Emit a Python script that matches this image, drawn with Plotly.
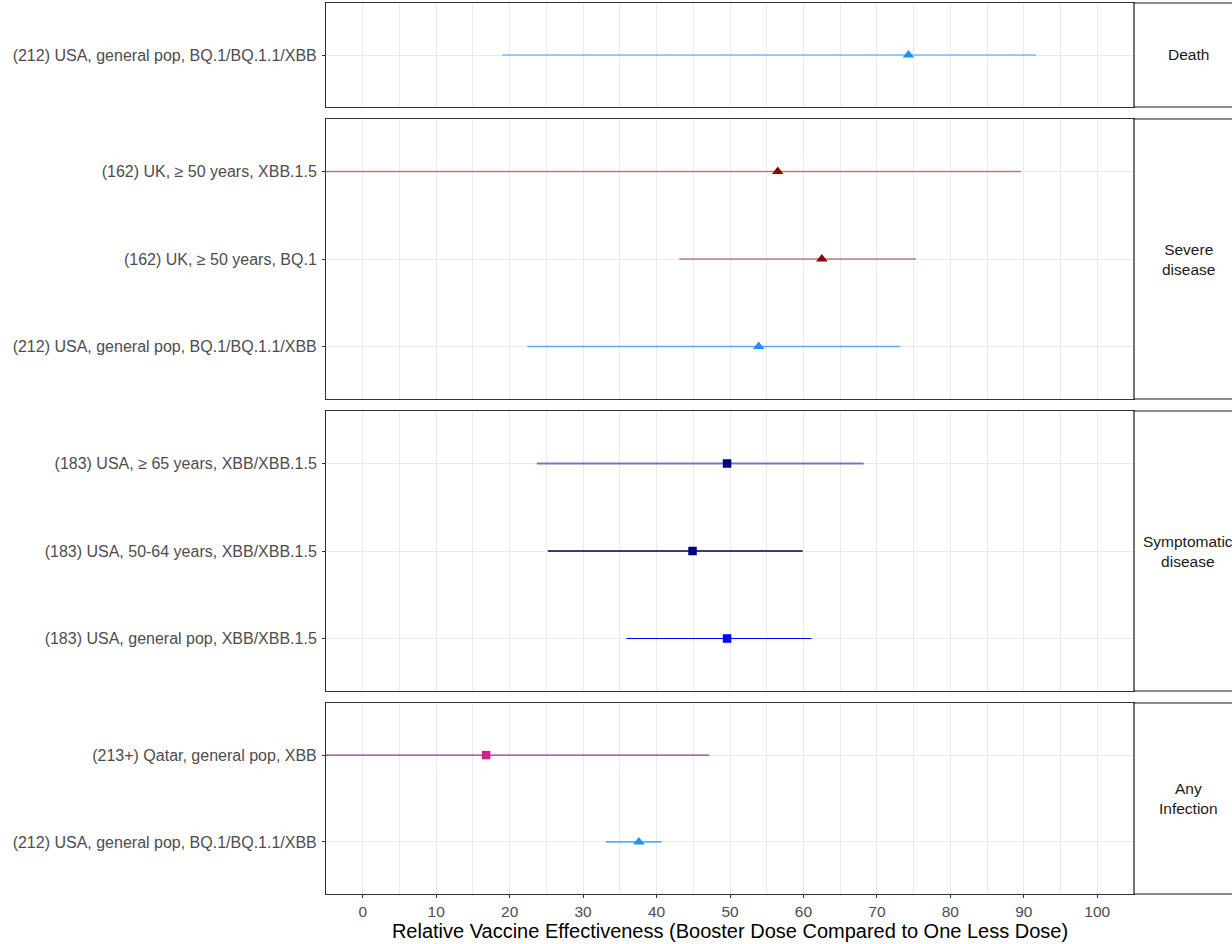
import plotly.graph_objects as go

# ---------------- data ----------------
panels = ["Death", "Severe disease", "Symptomatic disease", "Any Infection"]
panel_labels = ["Death", "Severe<br>disease", "Symptomatic<br>disease", "Any<br>Infection"]

outcome = ["Death",
           "Severe disease", "Severe disease", "Severe disease",
           "Symptomatic disease", "Symptomatic disease", "Symptomatic disease",
           "Any Infection", "Any Infection"]
study = ["(212) USA, general pop, BQ.1/BQ.1.1/XBB",
         "(162) UK, \u2265 50 years, XBB.1.5",
         "(162) UK, \u2265 50 years, BQ.1",
         "(212) USA, general pop, BQ.1/BQ.1.1/XBB",
         "(183) USA, \u2265 65 years, XBB/XBB.1.5",
         "(183) USA, 50-64 years, XBB/XBB.1.5",
         "(183) USA, general pop, XBB/XBB.1.5",
         "(213+) Qatar, general pop, XBB",
         "(212) USA, general pop, BQ.1/BQ.1.1/XBB"]
estimate = [74.3, 56.5, 62.5, 53.9, 49.6, 44.9, 49.6, 16.8, 37.6]
lower = [19.0, -12.0, 43.1, 22.4, 23.7, 25.2, 35.9, -15.0, 33.1]
upper = [91.7, 89.6, 75.3, 73.2, 68.2, 59.9, 61.1, 47.2, 40.7]

point_color = ["#1E90FF", "#8B0000", "#8B0000", "#1E90FF",
               "#000080", "#000080", "#0000FF", "#D0208F", "#1E90FF"]
line_color = ["rgba(30,144,255,0.85)", "rgba(139,0,0,0.5)", "rgba(139,0,0,0.5)",
              "rgba(30,144,255,0.7)", "rgba(0,0,128,0.5)", "#000040", "#0000FF",
              "#A8327F", "#1E90FF"]
line_width = [1.2, 1.6, 1.6, 1.4, 1.8, 1.4, 1.2, 1.2, 1.2]
symbol = ["triangle-up", "triangle-up", "triangle-up", "triangle-up",
          "square", "square", "square", "square", "triangle-up"]

x_ticks = [0, 10, 20, 30, 40, 50, 60, 70, 80, 90, 100]

# ---------------- layout geometry ----------------
W, H = 1232, 944
ML, MR, MT, MB = 326, 0, 3, 50
PW = W - ML - MR
PH = H - MT - MB
panel_px = [(3, 107), (119, 399), (411, 691), (703, 894)]
panel_right_px = 1134
strip_right_px = 1242
strip_center_px = 1188

def px_to_paper_x(px):
    return (px - ML) / PW

def px_to_paper_y(py):
    return (H - MB - py) / PH

x_dom = [0, px_to_paper_x(panel_right_px)]

FONT = "Liberation Sans, Arial, sans-serif"
GRID = "#EBEBEB"
BORDER = "#333333"

fig = go.Figure()
layout = {}
shapes = []
annotations = []

for i, p in enumerate(panels):
    xa = "x" if i == 0 else f"x{i+1}"
    ya = "y" if i == 0 else f"y{i+1}"
    idx = [k for k in range(len(outcome)) if outcome[k] == p]
    cats = [study[k] for k in idx]
    for k in idx:
        fig.add_trace(go.Scatter(
            x=[estimate[k]], y=[study[k]], xaxis=xa, yaxis=ya,
            mode="markers",
            marker=dict(symbol=symbol[k], color=point_color[k],
                        size=10 if symbol[k] == "triangle-up" else 8.5,
                        line=dict(width=0)),
            error_x=dict(type="data", symmetric=False,
                         array=[upper[k] - estimate[k]],
                         arrayminus=[estimate[k] - lower[k]],
                         color=line_color[k], thickness=line_width[k], width=0),
            showlegend=False, hoverinfo="skip", cliponaxis=True))
    n = len(cats)
    y0p, y1p = panel_px[i]
    dom = [px_to_paper_y(y1p), px_to_paper_y(y0p)]
    bottom = (i == len(panels) - 1)
    xkey = "xaxis" if i == 0 else f"xaxis{i+1}"
    ykey = "yaxis" if i == 0 else f"yaxis{i+1}"
    layout[xkey] = dict(
        domain=x_dom, anchor=ya, range=[-5, 105],
        tickvals=x_ticks, showticklabels=bottom,
        ticks="outside" if bottom else "", ticklen=3, tickcolor=BORDER, tickwidth=1,
        showgrid=True, gridcolor=GRID, gridwidth=1.1,
        minor=dict(dtick=5, tick0=0, showgrid=True, gridcolor=GRID, gridwidth=0.6),
        zeroline=False, showline=True, mirror=True, linecolor=BORDER, linewidth=1,
        tickfont=dict(family=FONT, size=15.5, color="#4D4D4D"),
        fixedrange=True,
    )
    if i > 0:
        layout[xkey]["matches"] = "x"
    if bottom:
        layout[xkey]["title"] = dict(
            text="Relative Vaccine Effectiveness (Booster Dose Compared to One Less Dose)",
            font=dict(family=FONT, size=20, color="#000000"), standoff=4)
    layout[ykey] = dict(
        domain=dom, anchor=xa, type="category",
        categoryorder="array", categoryarray=list(reversed(cats)),
        range=[-0.6, n - 0.4],
        ticks="outside", ticklen=3, tickcolor=BORDER, tickwidth=1,
        showgrid=True, gridcolor=GRID, gridwidth=1.1,
        zeroline=False, showline=True, mirror=True, linecolor=BORDER, linewidth=1,
        tickfont=dict(family=FONT, size=16, color="#4D4D4D"),
        ticklabelstandoff=2, fixedrange=True,
    )
    # facet strip
    shapes.append(dict(type="rect", xref="paper", yref="paper",
                       x0=px_to_paper_x(panel_right_px), x1=px_to_paper_x(strip_right_px),
                       y0=dom[0], y1=dom[1], fillcolor="white",
                       line=dict(color="#1A1A1A", width=1.2), layer="above"))
    annotations.append(dict(xref="paper", yref="paper",
                            x=px_to_paper_x(strip_center_px), y=(dom[0] + dom[1]) / 2,
                            text=panel_labels[i], showarrow=False,
                            xanchor="center", yanchor="middle", align="center",
                            font=dict(family=FONT, size=15.5, color="#1A1A1A")))

fig.update_layout(
    width=W, height=H,
    margin=dict(l=ML, r=MR, t=MT, b=MB, pad=0),
    paper_bgcolor="white", plot_bgcolor="white",
    shapes=shapes, annotations=annotations,
    showlegend=False,
    font=dict(family=FONT),
    **layout,
)

fig.write_html("out.html")
